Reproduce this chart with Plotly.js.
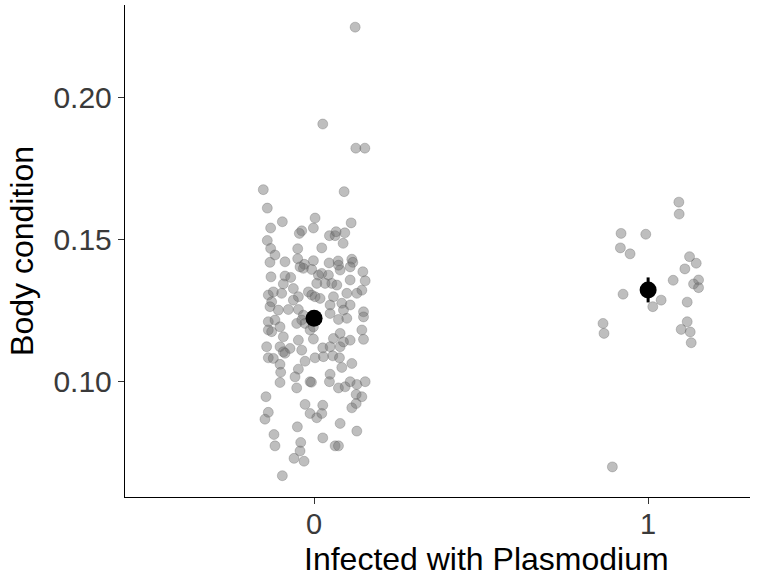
<!DOCTYPE html>
<html>
<head>
<meta charset="utf-8">
<script src="https://cdn.plot.ly/plotly-3.0.1.min.js"></script>
<style>
    body { margin: 0; background: #ffffff; }
    #plot { width: 760px; height: 583px; }
</style>
</head>
<body>
<div id="plot"></div>
<script>
// group 0 (not infected): jittered x position and body condition
let jitter0 = [
    0.123, 0.026, 0.125, 0.152, -0.152, 0.090, -0.140, -0.095, 0.003, 0.111,
    -0.130, -0.002, -0.037, -0.044, 0.046, 0.063, 0.066, 0.092, 0.087, -0.140,
    -0.130, 0.023, -0.049, -0.117, -0.049, -0.132, -0.087, -0.002, -0.029, 0.045,
    0.072, 0.113, 0.116,
    -0.129, -0.087, -0.070, -0.092, -0.062, -0.097, -0.137, -0.122, -0.032, -0.007,
    -0.042, 0.013, 0.023, 0.043, 0.053, 0.068, 0.033, 0.008, 0.078, 0.108,
    0.073, 0.146, 0.153, 0.108, 0.143, 0.128, 0.098, -0.017, -0.007, 0.018,
    0.003, -0.047, -0.062, 0.058, 0.083, 0.108, 0.088, -0.127, -0.132, -0.107,
    -0.077, -0.047, -0.032, -0.037, -0.052, 0.048, 0.048, 0.073, 0.098, 0.148,
    0.148, -0.137, -0.117, -0.137, -0.127, -0.102, -0.092, -0.027, -0.012, -0.002,
    0.078, 0.058, 0.108, 0.143, 0.148,
    -0.142, -0.102, -0.072, -0.092, -0.087, -0.137, -0.122, -0.037, -0.047, -0.002,
    0.026, 0.048, 0.078, 0.088, 0.003, 0.028, 0.056, 0.076, -0.027, -0.102,
    -0.047, -0.057, -0.100, -0.102, -0.012, -0.008, 0.083, 0.113, 0.048, 0.046,
    0.073, 0.093, 0.108, 0.128, 0.153, -0.052, -0.144, 0.126, 0.143, -0.027,
    0.026, 0.113, 0.126, -0.137, -0.012,
    -0.147, 0.008, 0.023, 0.078, 0.128, -0.120, -0.050, 0.026, -0.117, -0.040,
    -0.042, -0.060, -0.030, 0.063, 0.073, -0.095
];
let body0 = [
    0.2246, 0.1905, 0.1820, 0.1820, 0.1674, 0.1667, 0.1609, 0.1561, 0.1574, 0.1557,
    0.1539, 0.1539, 0.1529, 0.1520, 0.1512, 0.1512, 0.1526, 0.1522, 0.1485, 0.1495,
    0.1467, 0.1469, 0.1466, 0.1444, 0.1431, 0.1418, 0.1420, 0.1424, 0.1411, 0.1416,
    0.1423, 0.1429, 0.1418,
    0.1367, 0.1370, 0.1365, 0.1342, 0.1326, 0.1309, 0.1303, 0.1314, 0.1397, 0.1393,
    0.1402, 0.1373, 0.1379, 0.1373, 0.1344, 0.1338, 0.1344, 0.1344, 0.1391, 0.1402,
    0.1408, 0.1385, 0.1353, 0.1356, 0.1320, 0.1309, 0.1309, 0.1314, 0.1303, 0.1291,
    0.1297, 0.1297, 0.1285, 0.1297, 0.1274, 0.1268, 0.1250, 0.1279, 0.1262, 0.1250,
    0.1252, 0.1252, 0.1232, 0.1215, 0.1203, 0.1268, 0.1238, 0.1217, 0.1221, 0.1244,
    0.1226, 0.1209, 0.1215, 0.1180, 0.1174, 0.1191, 0.1156, 0.1203, 0.1180, 0.1191,
    0.1168, 0.1150, 0.1144, 0.1180, 0.1147,
    0.1121, 0.1121, 0.1115, 0.1103, 0.1098, 0.1082, 0.1080, 0.1109, 0.1144, 0.1148,
    0.1117, 0.1121, 0.1121, 0.1138, 0.1082, 0.1086, 0.1089, 0.1082, 0.1070, 0.1059,
    0.1042, 0.1015, 0.1031, 0.0995, 0.0998, 0.0996, 0.1048, 0.1062, 0.1024, 0.0998,
    0.0976, 0.0980, 0.0998, 0.0988, 0.0998, 0.0976, 0.0945, 0.0953, 0.0945, 0.0918,
    0.0915, 0.0906, 0.0921, 0.0890, 0.0886,
    0.0866, 0.0871, 0.0886, 0.0851, 0.0824, 0.0812, 0.0839, 0.0800, 0.0772, 0.0784,
    0.0754, 0.0728, 0.0718, 0.0772, 0.0772, 0.0667
];

// group 1 (infected with Plasmodium)
let jitter1 = [
    1.092, 1.093, 0.919, 0.993, 0.917, 0.946, 1.124, 1.144, 1.110, 1.075,
    1.151, 1.136, 1.151, 0.925, 1.039, 1.014, 1.117, 1.117, 1.099, 1.126,
    1.129, 0.865, 0.868, 0.893
];
let body1 = [
    0.1630, 0.1588, 0.1520, 0.1517, 0.1469, 0.1448, 0.1438, 0.1415, 0.1395, 0.1355,
    0.1356, 0.1342, 0.1329, 0.1306, 0.1285, 0.1262, 0.1278, 0.1209, 0.1182, 0.1173,
    0.1135, 0.1203, 0.1168, 0.0698
];

// group means with standard errors
let groups = [0, 1];
let groupMeans = [0.1221, 0.1321];
let groupSE = [0.0018, 0.0044];

let pointStyle = {
    size: 10,
    color: "rgba(110,110,110,0.45)",
    line: { color: "rgba(80,80,80,0.45)", width: 0.6 }
};

let trace0 = {
    x: jitter0,
    y: body0,
    type: "scatter",
    mode: "markers",
    marker: pointStyle,
    hoverinfo: "skip"
};

let trace1 = {
    x: jitter1,
    y: body1,
    type: "scatter",
    mode: "markers",
    marker: pointStyle,
    hoverinfo: "skip"
};

// means on top
let traceMean = {
    x: groups,
    y: groupMeans,
    type: "scatter",
    mode: "markers",
    marker: { size: 17, color: "#000000" },
    error_y: { type: "data", array: groupSE, visible: true, color: "#000000", thickness: 3, width: 0 }
};

let layout = {
    width: 760,
    height: 583,
    showlegend: false,
    paper_bgcolor: "#ffffff",
    plot_bgcolor: "#ffffff",
    margin: { l: 125, r: 10, t: 5, b: 86 },
    font: { family: "Liberation Sans, Arial, sans-serif" },
    xaxis: {
        range: [-0.566, 1.305],
        tickvals: [0, 1],
        ticktext: ["0", "1"],
        showgrid: false,
        zeroline: false,
        showline: true,
        linecolor: "#000000",
        linewidth: 1.2,
        ticks: "outside",
        ticklen: 6,
        tickcolor: "#333333",
        ticklabelstandoff: -5,
        tickfont: { size: 29, color: "#3a3a3a" }
    },
    yaxis: {
        range: [0.0592, 0.2324],
        tickvals: [0.10, 0.15, 0.20],
        ticktext: ["0.10", "0.15", "0.20"],
        showgrid: false,
        zeroline: false,
        showline: true,
        linecolor: "#000000",
        linewidth: 1.2,
        ticks: "outside",
        ticklen: 6,
        tickcolor: "#333333",
        tickfont: { size: 30, color: "#3a3a3a" },
        title: { text: "Body condition", font: { size: 32, color: "#000000" }, standoff: 10 }
    },
    // x title sits a little right of the panel centre in the original
    annotations: [{
        text: "Infected with Plasmodium",
        xref: "paper",
        yref: "paper",
        x: 0.578,
        y: -0.085,
        xanchor: "center",
        yanchor: "top",
        showarrow: false,
        font: { size: 32, color: "#000000" }
    }]
};

Plotly.newPlot("plot", [trace0, trace1, traceMean], layout, { staticPlot: true });
</script>
</body>
</html>
